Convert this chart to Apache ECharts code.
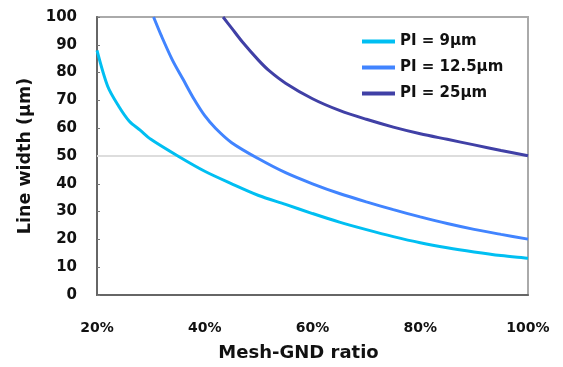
<!DOCTYPE html>
<html>
<head>
<meta charset="utf-8">
<script src="https://cdn.jsdelivr.net/npm/echarts@6/dist/echarts.min.js"></script>
<style>
  html, body { margin: 0; padding: 0; background: #fff; }
  #chart { width: 563px; height: 367px; }
</style>
</head>
<body>
<div id="chart"></div>
<script>
// 数据: Mesh-GND ratio (%) 与 line width (µm)
const seriesNames = ['PI = 9µm', 'PI = 12.5µm', 'PI = 25µm']
const ratio9 = [20, 22, 24, 26, 28, 30, 35, 40, 45, 50, 55, 60, 65, 70, 75, 80, 85, 90, 95, 100]
const width9 = [88, 75, 68, 62.5, 59.3, 56, 50, 44.5, 40, 35.8, 32.6, 29.3, 26.2, 23.5, 21, 18.8, 17, 15.5, 14.2, 13.2]
const ratio12 = [30.5, 32, 34, 36, 38, 40, 42, 45, 50, 55, 60, 65, 70, 75, 80, 85, 90, 95, 100]
const width12 = [100, 93, 84.5, 77.5, 70.5, 64.5, 60, 54.8, 49, 44, 40, 36.5, 33.5, 30.7, 28.1, 25.7, 23.6, 21.8, 20.1]
const ratio25 = [43.4, 45, 47, 50, 52, 55, 60, 65, 70, 75, 80, 85, 90, 95, 100]
const width25 = [100, 96, 91, 84.4, 80.6, 76.2, 70.6, 66.4, 63.2, 60.4, 58, 56, 54, 52, 50.1]
const refLevel = [50]
const colors = ['#00bff2', '#4184ff', '#4040a6']

const font = 'DejaVu Sans'

function pairs(xs, ys) {
  return xs.map((x, i) => [x, ys[i]])
}

const option = {
  animation: false,
  backgroundColor: '#fff',
  grid: {
    left: 97,
    right: 35,
    top: 17,
    bottom: 70,
    show: true,
    borderColor: '#aaa',
    borderWidth: 2
  },
  legend: {
    orient: 'vertical',
    left: 357,
    top: 29,
    itemWidth: 33,
    itemHeight: 4,
    itemGap: 11,
    icon: 'rect',
    textStyle: { fontFamily: font, fontWeight: 'bold', fontSize: 15, color: '#111' },
    data: seriesNames
  },
  xAxis: {
    type: 'value',
    min: 20,
    max: 100,
    interval: 20,
    name: 'Mesh-GND ratio',
    nameLocation: 'middle',
    nameGap: 49,
    nameTextStyle: { fontFamily: font, fontWeight: 'bold', fontSize: 18, color: '#111', padding: [0, 28, 0, 0] },
    axisLine: { show: true, lineStyle: { color: '#666', width: 2 } },
    axisTick: { show: false },
    splitLine: { show: false },
    axisLabel: {
      margin: 26,
      formatter: '{value}%',
      fontFamily: font,
      fontWeight: 'bold',
      fontSize: 14,
      color: '#111'
    }
  },
  yAxis: {
    type: 'value',
    min: 0,
    max: 100,
    interval: 10,
    name: 'Line width (µm)',
    nameLocation: 'middle',
    nameGap: 53,
    nameTextStyle: { fontFamily: font, fontWeight: 'bold', fontSize: 17.5, color: '#111' },
    axisLine: { show: true, lineStyle: { color: '#666', width: 2 } },
    axisTick: { show: true, inside: true, length: 3, lineStyle: { color: '#777' } },
    splitLine: { show: false },
    axisLabel: {
      margin: 20,
      fontFamily: font,
      fontWeight: 'bold',
      fontSize: 15,
      color: '#111'
    }
  },
  series: [
    { name: seriesNames[0], data: pairs(ratio9, width9) },
    { name: seriesNames[1], data: pairs(ratio12, width12) },
    { name: seriesNames[2], data: pairs(ratio25, width25) }
  ].map((s, i) => ({
    ...s,
    type: 'line',
    z: 4,
    smooth: 0.3,
    showSymbol: false,
    color: colors[i],
    lineStyle: { width: 3, color: colors[i] }
  }))
}

// 50 处的浅灰参考线（压在曲线下面）
option.series[0].markLine = {
  silent: true,
  z: 3,
  symbol: ['none', 'none'],
  animation: false,
  label: { show: false },
  lineStyle: { color: '#dddddd', width: 2, type: 'solid' },
  data: refLevel.map(v => ({ yAxis: v }))
}

const chart = echarts.init(document.getElementById('chart'))
chart.setOption(option)
</script>
</body>
</html>
